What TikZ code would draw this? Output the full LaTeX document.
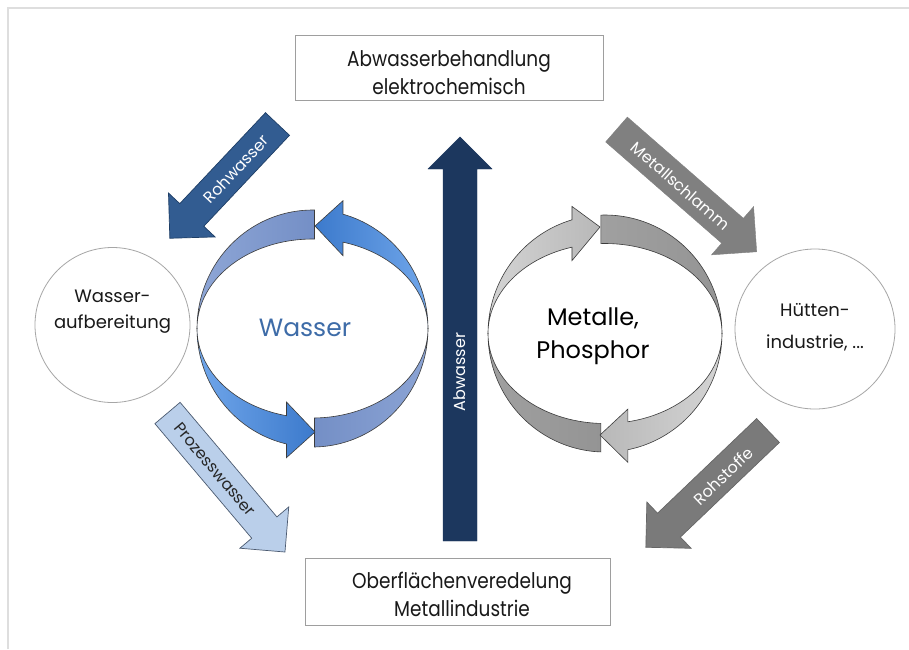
\documentclass[tikz,border=0pt]{standalone}
\usepackage{fontspec}
\setmainfont{Poppins}
\newfontfamily\boxfont[FakeStretch=0.86]{Poppins}

\definecolor{navy}{RGB}{28,55,94}
\definecolor{rohblue}{RGB}{50,92,145}
\definecolor{rohedge}{RGB}{30,62,102}
\definecolor{procblue}{RGB}{186,207,234}
\definecolor{procedge}{RGB}{75,90,112}
\definecolor{wblueL}{RGB}{112,166,234}
\definecolor{wblueD}{RGB}{60,122,204}
\definecolor{slateL}{RGB}{142,166,214}
\definecolor{slateD}{RGB}{116,143,198}
\definecolor{greyL}{RGB}{212,212,212}
\definecolor{greyM}{RGB}{184,184,184}
\definecolor{greyD}{RGB}{160,160,160}
\definecolor{greyDD}{RGB}{148,148,148}
\definecolor{mudgrey}{RGB}{128,128,128}
\definecolor{stonegrey}{RGB}{122,122,122}
\definecolor{wtext}{RGB}{62,108,168}
\definecolor{framegrey}{RGB}{222,222,222}
\definecolor{ringedge}{RGB}{60,60,60}

% straight block arrow: style, tail x, tail y, direction, length, shaft width, head width, head length
\newcommand{\flowarr}[8]{%
  \begin{scope}[shift={(#2,#3)},rotate=#4]
    \path[#1] (0,{-#6/2}) -- ({#5-#8},{-#6/2}) -- ({#5-#8},{-#7/2}) -- (#5,0)
      -- ({#5-#8},{#7/2}) -- ({#5-#8},{#6/2}) -- (0,{#6/2}) -- cycle;
  \end{scope}}

% band of a ring between an outer and an inner ellipse with equal half width
\newcommand{\ringpart}[3]{%
  \path[#1] plot[domain=#2:#3,samples=50] ({\rcx+\ra*cos(\x)},{\rcy-\rbo*sin(\x)})
    -- plot[domain=#3:#2,samples=50] ({\rcx+\ra*cos(\x)},{\rcy-\rbi*sin(\x)}) -- cycle;}

% band ending in an arrow head: style, start angle, head base angle, tip x, tip y, barb extension
\newcommand{\ringhead}[6]{%
  \path[#1] plot[domain=#2:#3,samples=50] ({\rcx+\ra*cos(\x)},{\rcy-\rbo*sin(\x)})
    -- ({\rcx+\ra*cos(#3)},{\rcy-(\rbo+#6)*sin(#3)})
    -- (#4,#5)
    -- ({\rcx+\ra*cos(#3)},{\rcy-(\rbi-#6)*sin(#3)})
    -- plot[domain=#3:#2,samples=50] ({\rcx+\ra*cos(\x)},{\rcy-\rbi*sin(\x)}) -- cycle;}

\tikzset{
  arrlabel/.style={font=\fontsize{16}{19}\selectfont, inner sep=0pt},
  textbox/.style={draw=black!38, line width=0.9pt, fill=white},
  boxtext/.style={align=center, text=black!90, inner sep=0pt,
    font=\boxfont\fontsize{21.5}{28}\selectfont},
  sitecircle/.style={circle, draw=black!35, line width=0.8pt, fill=white, inner sep=0pt},
  sitetext/.style={align=center, inner sep=0pt, text=black!90},
  ringline/.style={draw=ringedge, line width=0.6pt},
}

\begin{document}
\begin{tikzpicture}[x=1pt,y=-1pt]
\useasboundingbox (0,0) rectangle (909,649);
\fill[white] (0,0) rectangle (909,649);

% frame edge
\draw[framegrey, line width=1.6pt] (8,649) -- (8,8) -- (909,8);

% plants and treatment
\node[textbox, minimum width=308pt, minimum height=65pt] (treat) at (449,67.5) {};
\node[boxtext] (treattext) at (449,73) {Abwasserbehandlung\\elektrochemisch};
\node[textbox, minimum width=305pt, minimum height=67pt] (finish) at (457.5,591.5) {};
\node[boxtext] (finishtext) at (462,594) {Oberflächenveredelung\\Metallindustrie};

\node[sitecircle, minimum size=155pt] (prep) at (112.5,325) {};
\node[sitetext, font=\fontsize{18}{26}\selectfont] (preptext) at (112.5,312)
  {Wasser-\\aufbereitung};
\node[sitecircle, minimum size=160pt] (smelt) at (815,329) {};
\node[sitetext, font=\fontsize{18}{32}\selectfont] (smelttext) at (815,327)
  {Hütten-\\industrie, ...};

% water cycle
\def\rcx{312.5}\def\rcy{328.5}\def\ra{115.5}\def\rbo{118.5}\def\rbi{89.5}
\ringpart{ringline, left color=slateL, right color=slateD}{89}{180}
\ringpart{ringline, left color=slateD, right color=slateL!90!slateD}{271}{360}
\ringhead{ringline, left color=wblueL, right color=wblueD}{180}{257}{315}{432}{14}
\ringhead{ringline, left color=wblueD, right color=wblueL}{0}{74.7}{315}{226}{14}
\node[text=wtext, font=\fontsize{25}{30}\selectfont] (water) at (305,328) {Wasser};

% metal cycle
\def\rcx{605}\def\rcy{333.5}\def\ra{117}\def\rbo{118.5}\def\rbi{90}
\ringpart{ringline, left color=greyD, right color=greyDD}{0}{92}
\ringpart{ringline, left color=greyD, right color=greyDD}{180}{268}
\ringhead{ringline, left color=greyL, right color=greyM}{180}{106.4}{600}{227}{14}
\ringhead{ringline, left color=greyM, right color=greyL}{0}{-78.7}{600}{435}{13}
\node[align=center, font=\fontsize{24}{33}\selectfont] (metal) at (593,336) {Metalle,\\Phosphor};

% flows
\flowarr{fill=navy, draw=navy}{460}{541}{90}{404}{34}{64}{32}
\node[arrlabel, text=white, rotate=90] (abw) at (460,372) {Abwasser};

\flowarr{fill=rohblue, draw=rohedge, line width=0.7pt}{277.5}{124}{226.7}{157}{33}{64}{32}
\node[arrlabel, text=white, rotate=46.7] (raw) at (236,169) {Rohwasser};

\flowarr{fill=procblue, draw=procedge, line width=0.7pt}{167.5}{413}{-49.8}{182}{33}{64}{32}
\node[arrlabel, text=black!85, rotate=-49.8] (proc) at (215,469.5) {Prozesswasser};

\flowarr{fill=mudgrey, draw=mudgrey}{616.5}{129.5}{-41.1}{186}{33}{64}{32}
\node[arrlabel, text=white, rotate=-41.1] (sludge) at (680.5,186) {Metallschlamm};

\flowarr{fill=stonegrey, draw=black!60, line width=0.7pt}{768}{430.5}{223.7}{169}{33}{64}{32}
\node[arrlabel, text=white, rotate=43.7] (raws) at (723.5,476) {Rohstoffe};
\end{tikzpicture}
\end{document}
